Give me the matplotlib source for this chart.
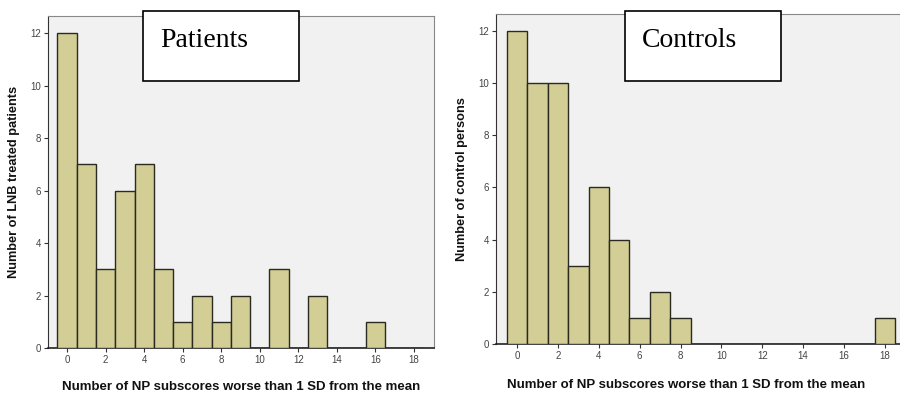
import matplotlib
matplotlib.use("Agg")
import matplotlib.pyplot as plt
from matplotlib.patches import Rectangle
import numpy as np

scores = list(range(19))
patients = [12, 7, 3, 6, 7, 3, 1, 2, 1, 2, 0, 3, 0, 2, 0, 0, 1, 0, 0]
controls = [12, 10, 10, 3, 6, 4, 1, 2, 1, 0, 0, 0, 0, 0, 0, 0, 0, 0, 1]
xticks = [0, 2, 4, 6, 8, 10, 12, 14, 16, 18]
yticks = [0, 2, 4, 6, 8, 10, 12]
xlabel = "Number of NP subscores worse than 1 SD from the mean"
ylabels = ["Number of LNB treated patients", "Number of control persons"]
titles = ["Patients", "Controls"]

W, H = 900, 395
fig = plt.figure(figsize=(9, 3.95), dpi=100)

bar_color = "#D3CE95"
edge_color = "#2a2a20"
bg_color = "#F0F1F0"

def px_axes(l, t, r, b):
    return [l / W, (H - b) / H, (r - l) / W, (b - t) / H]

panels = [
    dict(rect=px_axes(48, 16, 434, 348), xlim=(-0.99, 19.04), data=patients,
         ylabel=ylabels[0], ylab_x=14, box=(143, 11, 299, 81), txt=(160, 47), title=titles[0],
         right=True, xlab=(241, 387)),
    dict(rect=px_axes(496, 14, 900, 344), xlim=(-1.03, 18.74), data=controls,
         ylabel=ylabels[1], ylab_x=462, box=(625, 11, 781, 81), txt=(642, 47), title=titles[1],
         right=False, xlab=(686, 385)),
]

sans = ["Liberation Sans", "DejaVu Sans"]
for p in panels:
    ax = fig.add_axes(p["rect"])
    ax.set_facecolor(bg_color)
    ax.bar(scores, p["data"], width=1.0, color=bar_color, edgecolor=edge_color, linewidth=1.0, zorder=3)
    ax.set_xlim(*p["xlim"])
    ax.set_ylim(0, 12.65)
    ax.set_xticks(xticks)
    ax.set_yticks(yticks)
    ax.tick_params(axis="both", direction="out", length=3, width=0.8, colors="#333333",
                   labelsize=7, pad=2)
    for lab in ax.get_xticklabels() + ax.get_yticklabels():
        lab.set_family(sans)
        lab.set_color("#444444")
    ax.spines["left"].set_color("#333333")
    ax.spines["bottom"].set_color("#222222")
    ax.spines["bottom"].set_linewidth(1.2)
    ax.spines["top"].set_color("#888888")
    ax.spines["right"].set_color("#888888")
    ax.spines["right"].set_visible(p["right"])
    fig.text(p["ylab_x"] / W, p["rect"][1] + p["rect"][3] / 2, p["ylabel"], rotation=90,
             ha="center", va="center", fontsize=9.2, fontweight="bold", family=sans, color="#111111")
    l, t, r, b = p["box"]
    fig.add_artist(Rectangle((l / W, (H - b) / H), (r - l) / W, (b - t) / H,
                             transform=fig.transFigure, facecolor="white", edgecolor="black",
                             linewidth=1.2, zorder=10))
    fig.text(p["txt"][0] / W, (H - p["txt"][1]) / H, p["title"], ha="left", va="baseline",
             fontsize=20, family=["Liberation Serif", "DejaVu Serif"], color="black", zorder=11)
    fig.text(p["xlab"][0] / W, (H - p["xlab"][1]) / H, xlabel, ha="center", va="center",
             fontsize=9.5, fontweight="bold", family=sans, color="#111111")

fig.savefig("out.png", dpi=100)
